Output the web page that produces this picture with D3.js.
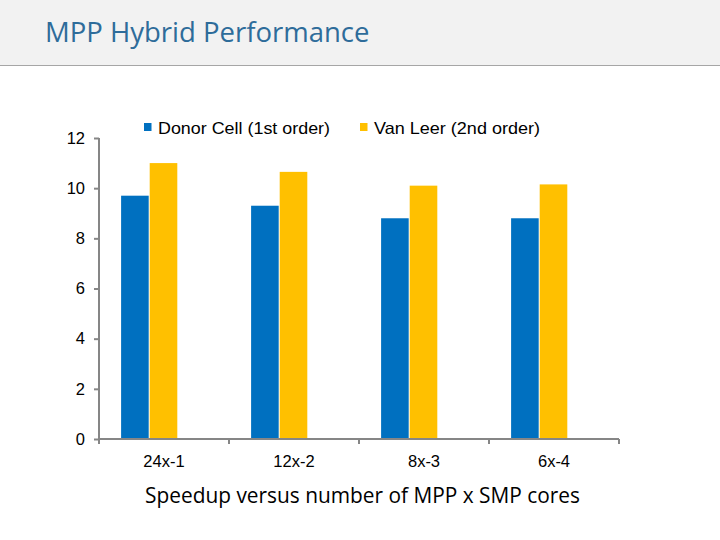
<!DOCTYPE html>
<html><head><meta charset="utf-8">
<script src="https://cdn.jsdelivr.net/npm/d3@7"></script>
<style>
html,body{margin:0;padding:0;background:#fff;}
svg{display:block;}
</style></head>
<body>
<script>
const title = "MPP Hybrid Performance";
const categories = ["24x-1", "12x-2", "8x-3", "6x-4"];
const seriesNames = ["Donor Cell (1st order)", "Van Leer (2nd order)"];
const donorCell = [9.7, 9.3, 8.8, 8.8];
const vanLeer = [11.0, 10.65, 10.1, 10.15];
const yTicks = [0, 2, 4, 6, 8, 10, 12];
const xTitle = "Speedup versus number of MPP x SMP cores";
const colors = ["#0070C0", "#FFC000"];

(function () {
const W = 720, H = 540;
const svg = d3.select("body").append("svg").attr("width", W).attr("height", H);

// header
svg.append("rect").attr("x", 0).attr("y", 0).attr("width", W).attr("height", 65).attr("fill", "#f2f2f2");
svg.append("line").attr("x1", 0).attr("x2", W).attr("y1", 65.5).attr("y2", 65.5).attr("stroke", "#a6a6a6").attr("stroke-width", 1);
svg.append("text").attr("x", 45).attr("y", 42).text(title)
  .attr("font-family", "'Open Sans', 'Noto Sans', sans-serif").attr("font-size", 27.5).attr("fill", "#2e6c9a");

const mLeft = 99, mRight = 619, mTop = 138, mBottom = 439;
const x = d3.scaleBand().domain(categories).range([mLeft, mRight]).padding(0);
const gap = x.bandwidth() * 0.17;
const x1 = d3.scaleBand().domain(["a", "b", "c"]).range([gap, x.bandwidth() - gap]).padding(0);
const y = d3.scaleLinear().domain([0, 12]).range([mBottom, mTop]);

const data = categories.map((c, i) => ({cat: c, vals: [donorCell[i], vanLeer[i]]}));
const keys = ["a", "b"];

const g = svg.append("g");
data.forEach(d => {
  d.vals.forEach((v, j) => {
    g.append("rect")
      .attr("x", x(d.cat) + x1(keys[j]))
      .attr("y", y(v))
      .attr("width", x1.bandwidth() - 1)
      .attr("height", y(0) - y(v))
      .attr("fill", colors[j]);
  });
});

const axisColor = "#868686";
const font = "'Liberation Sans', Arial, sans-serif";

// y axis
const yAxis = svg.append("g").attr("transform", `translate(${mLeft},0)`)
  .call(d3.axisLeft(y).tickValues(yTicks).tickSize(5).tickPadding(9).tickFormat(d3.format("d")));
yAxis.selectAll("path").attr("stroke", axisColor).attr("stroke-width", 2).attr("d", `M0,${mTop}V${mBottom}`);
yAxis.selectAll("line").attr("stroke", axisColor).attr("stroke-width", 2);
yAxis.selectAll("text").attr("font-family", font).attr("font-size", 16.5).attr("fill", "#000");

// x axis
const xAxis = svg.append("g").attr("transform", `translate(0,${mBottom})`)
  .call(d3.axisBottom(x).tickSize(0).tickPadding(16));
xAxis.select("path").attr("stroke", axisColor).attr("stroke-width", 2).attr("d", `M${mLeft},0H${mRight}`);
xAxis.selectAll("text").attr("font-family", font).attr("font-size", 16.5).attr("fill", "#000");
const bounds = categories.map(c => x(c)).concat([mRight]);
xAxis.selectAll("line.sep").data(bounds).enter().append("line")
  .attr("x1", d => d).attr("x2", d => d).attr("y1", 0).attr("y2", 5)
  .attr("stroke", axisColor).attr("stroke-width", 2);

// legend
const legendX = [144, 360];
const legendW = [172, 166];
seriesNames.forEach((n, i) => {
  svg.append("rect").attr("x", legendX[i]).attr("y", 123).attr("width", 7.5).attr("height", 8).attr("fill", colors[i]);
  svg.append("text").attr("x", legendX[i] + 14).attr("y", 134).text(n)
    .attr("font-family", font).attr("font-size", 16.5).attr("fill", "#000")
    .attr("textLength", legendW[i]).attr("lengthAdjust", "spacingAndGlyphs");
});

// x title
svg.append("text").attr("x", 362.5).attr("y", 503).attr("text-anchor", "middle").text(xTitle)
  .attr("font-family", "'Open Sans', 'Noto Sans', sans-serif").attr("font-size", 21).attr("fill", "#000")
  .attr("textLength", 435).attr("lengthAdjust", "spacingAndGlyphs");
})();
</script>
</body></html>
